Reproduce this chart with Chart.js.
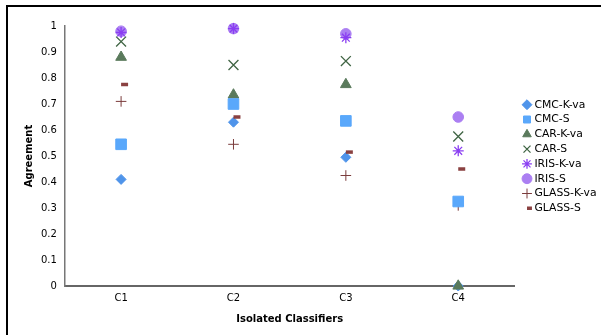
<!DOCTYPE html>
<html>
<head>
<meta charset="utf-8">
<script src="https://cdn.jsdelivr.net/npm/chart.js@4/dist/chart.umd.min.js"></script>
<style>
  html, body { margin: 0; padding: 0; background: #fff; }
  #wrap { position: relative; width: 601px; height: 335px; }
  #frame { position: absolute; left: 6px; top: 5px; right: 0; bottom: 0; border-left: 2px solid #000; border-top: 2px solid #000; pointer-events: none; }
  canvas { position: absolute; left: 0; top: 0; }
</style>
</head>
<body>
<div id="wrap">
  <canvas id="c" width="601" height="335"></canvas>
  <div id="frame"></div>
</div>
<script>
const categories = ['C1', 'C2', 'C3', 'C4'];
const cmcKva   = [0.41, 0.63, 0.495, 0.0];
const cmcS     = [0.545, 0.70, 0.635, 0.325];
const carKva   = [0.88, 0.735, 0.775, 0.0];
const carS     = [0.94, 0.85, 0.865, 0.575];
const irisKva  = [0.975, 0.99, 0.955, 0.52];
const irisS    = [0.98, 0.99, 0.97, 0.65];
const glassKva = [0.71, 0.545, 0.425, 0.31];
const glassS   = [0.775, 0.65, 0.515, 0.45];
const yTicks   = [0, 0.1, 0.2, 0.3, 0.4, 0.5, 0.6, 0.7, 0.8, 0.9, 1];

function ds(label, data, style, color, radius, bw, order) {
  return {
    label, data, showLine: false, clip: false, order: order || 0,
    pointStyle: style, pointRadius: radius, pointHoverRadius: radius,
    backgroundColor: color, borderColor: color, pointBorderWidth: bw
  };
}

const datasets = [
  ds('CMC-K-va', cmcKva, 'rectRot', '#4f94ea', 5, 1, 1),
  ds('CMC-S', cmcS, 'rect', '#5aa8fb', 7.5, 1),
  ds('CAR-K-va', carKva, 'triangle', '#5a7a5c', 6.2, 1),
  ds('CAR-S', carS, 'crossRot', '#3f6443', 7, 1.3),
  ds('IRIS-K-va', irisKva, 'star', '#8a3ef2', 5.5, 1.3),
  ds('IRIS-S', irisS, 'circle', '#ab7ff2', 5.3, 1),
  ds('GLASS-K-va', glassKva, 'cross', '#7b3c3c', 5.3, 1),
  ds('GLASS-S', glassS, 'dash', '#8a4141', 7, 3.5)
];

// place the legend block where the reference has it (to the right of the plot, centred a bit higher)
const legendPlace = {
  id: 'legendPlace',
  afterLayout(chart) {
    const lg = chart.legend;
    if (!lg) return;
    const pad = lg.options.labels.padding;
    const w = lg.right - lg.left;
    lg.left = 525 - pad;
    lg.right = lg.left + w;
    lg.top -= 21;
    lg.bottom -= 21;
  }
};

new Chart(document.getElementById('c'), {
  type: 'line',
  data: { labels: categories, datasets },
  options: {
    responsive: false,
    animation: false,
    layout: { padding: { top: 26, left: 19, bottom: 6, right: 1 } },
    plugins: {
      tooltip: { enabled: false },
      legend: {
        position: 'right',
        labels: {
          usePointStyle: true,
          boxWidth: 4, boxHeight: 7,
          padding: 4,
          color: '#000',
          font: { family: 'DejaVu Sans', size: 10.8 },
          sort: (a, b) => a.datasetIndex - b.datasetIndex
        }
      }
    },
    scales: {
      x: {
        type: 'category',
        offset: true,
        grid: { display: false, drawTicks: false },
        border: { color: '#666', width: 2 },
        ticks: { color: '#000', font: { family: 'DejaVu Sans', size: 10 }, padding: 6 },
        title: { display: true, text: 'Isolated Classifiers', color: '#000', font: { family: 'DejaVu Sans', size: 10, weight: 'bold' }, padding: { top: 3 } }
      },
      y: {
        min: 0, max: 1,
        afterBuildTicks(axis) { axis.ticks = yTicks.map(v => ({ value: v })); },
        grid: { display: false, drawOnChartArea: false, drawTicks: true, tickLength: 4, tickColor: '#777' },
        border: { color: '#777', width: 1.5 },
        ticks: { color: '#000', font: { family: 'DejaVu Sans', size: 10 }, padding: 4, callback: v => String(v) },
        title: { display: true, text: 'Agreement', color: '#000', font: { family: 'DejaVu Sans', size: 10, weight: 'bold' }, padding: { bottom: 2 } }
      }
    }
  },
  plugins: [legendPlace]
});
</script>
</body>
</html>
